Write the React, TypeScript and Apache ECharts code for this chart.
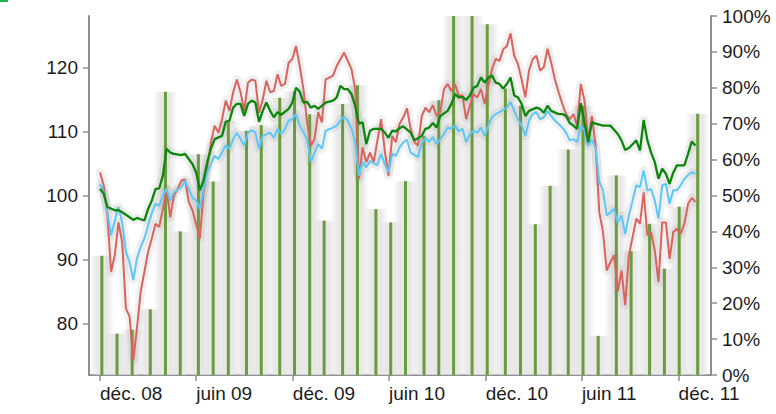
import React, { useEffect, useRef } from 'react';
import * as echarts from 'echarts';

// x positions are week indices counted from the first weekly observation (early Dec 2008)
const tickWeeks = [0, 26, 52.14, 78.14, 104.29, 130.29, 156.43];
const tickLabels = ['déc. 08', 'juin 09', 'déc. 09', 'juin 10', 'déc. 10', 'juin 11', 'déc. 11'];
const leftTicks = [80, 90, 100, 110, 120];

const redSeries: [number, number][] = [
  [0,103.6],[1,101.6],[2,96.9],[3,88.1],[4,90.7],[5,95.8],[6,92.7],[7,82.4],[8,81.1],[9,74.3],[10,79.3],[11,85],[13,91.2],[14,93.3],[15,95.6],[16,95.1],[17,97.9],[18,101],[19,96.6],[20,100],[21,101],[22,102.3],[23,102.5],[24,99],[25,97.7],[27,93.3],[28,100.5],[30,108.3],[31,110.9],[32,109.8],[33,111.9],[34,114.8],[35,113.2],[36,116.1],[37,118.1],[38,116.1],[39,113.2],[40,117.6],[41,118.1],[42,117.9],[43,112.9],[44,115],[45,117.9],[46,116.1],[47,116.3],[48,118.9],[49,117.1],[50,117.4],[51,120.7],[52,121.3],[53,123.3],[54,120.2],[55,116.6],[56,111.4],[57,107.8],[58,108.8],[59,113],[60,111.4],[61,118.1],[62,118.4],[63,118.7],[64,120.2],[66,122.3],[67,121],[68,119.7],[69,116.6],[70,102.6],[71,107.5],[72,105.2],[73,106.7],[74,105.2],[76,111.9],[77,107],[78,103.1],[79,109.3],[80,108.3],[81,111.2],[82,112.2],[83,113.6],[84,110.4],[85,108.3],[86,107.8],[87,112.4],[88,113.7],[89,113],[90,114.1],[91,112.4],[92,113],[93,116.6],[94,117.4],[95,116.3],[96,117.4],[97,115.6],[98,115.6],[99,111.9],[100,114],[101,115.8],[102,115.3],[103,116.6],[104,114.3],[105,117.1],[106,119.7],[107,121.3],[108,121],[109,122.8],[110,123.3],[111,125.3],[112,121.8],[113,120.5],[114,118.1],[115,115.3],[116,119.5],[117,121.3],[118,121.8],[119,119.5],[120,120],[121,122.9],[122,120.7],[123,118.1],[124,116.1],[125,114.3],[126,112.7],[127,111.9],[128,112.7],[129,110.9],[130,117.4],[131,114.8],[132,108.6],[133,112.4],[134,107.8],[135,97.4],[136,94.3],[137,88.3],[138,89.6],[139,90.7],[140,85],[141,88.3],[142,82.9],[143,90.7],[144,93.5],[145,96.4],[146,95.6],[147,100.5],[148,93.8],[149,94.3],[150,91.4],[151,86.5],[152,95.8],[153,95.8],[154,90.1],[155,94.3],[156,94.8],[157,94],[158,95.6],[159,98.7],[160,99.6],[161,99]
];

const blueSeries: [number, number][] = [
  [0,101.8],[1,100.5],[2,97.4],[3,93.8],[4,96.1],[5,98.2],[6,95.8],[7,91.2],[8,89.6],[9,86.8],[10,90.2],[11,92],[12,93.3],[13,95.3],[14,97.2],[15,98.7],[16,98.4],[17,100],[18,101],[19,99.2],[20,100.5],[22,101.3],[23,102.3],[24,101],[25,99.7],[26,99.2],[27,97.9],[28,101],[29,103.6],[30,104.9],[31,106.2],[32,105.7],[34,107.8],[35,107.3],[36,108.8],[37,109.8],[38,108.8],[39,107.8],[40,109.8],[41,110.2],[42,109.8],[43,107.3],[44,109.3],[46,109.8],[47,109],[48,110.4],[49,109.6],[50,110.4],[51,111.7],[52,111.9],[53,112.7],[54,110.9],[56,108.8],[57,105.2],[58,106.7],[59,108],[60,107.3],[61,110.1],[63,110.6],[64,110.9],[65,111.7],[66,112.3],[67,111.7],[68,110.4],[69,108.3],[70,103.1],[71,105.2],[72,104.4],[73,105.4],[75,104.7],[76,106.5],[77,104.9],[78,103.6],[79,106.5],[80,106.2],[81,107.5],[82,108.3],[83,108.7],[84,106.7],[86,106],[87,108.3],[88,108.9],[89,108.4],[90,109.1],[91,108],[93,109.6],[94,110.6],[95,110.4],[96,110.9],[97,110],[98,110.4],[99,108.3],[100,109.6],[101,110.1],[102,109.8],[103,110.6],[104,109.3],[105,110.9],[106,112.2],[107,112.7],[108,113],[110,113.7],[111,114.6],[112,113.2],[113,111.9],[114,110.9],[115,109.3],[116,111.7],[117,112.7],[118,113],[119,111.9],[120,112.2],[121,113.2],[122,112.4],[123,111.7],[125,110.6],[126,109.8],[127,108.6],[128,108.8],[129,108.3],[130,110.9],[131,110.1],[132,107.8],[133,108.8],[134,107.3],[135,102.1],[136,100.8],[137,96.9],[138,97.4],[139,97.9],[140,95.8],[141,96.9],[142,94],[143,96.9],[144,99.2],[145,101.6],[146,101.3],[147,103.9],[148,100.8],[149,101],[150,99.2],[151,96.4],[152,101.6],[153,101.8],[154,98.7],[155,100.8],[156,100.8],[157,101.6],[158,102.6],[159,103.2],[160,103.6],[161,103.4]
];

const greenSeries: [number, number][] = [
  [0,101],[1,100.3],[2,98.2],[4,97.7],[5,97.7],[6,97.4],[8,96.6],[9,96.2],[10,96.5],[11,96.3],[12,96.1],[13,97.9],[14,99.2],[15,101],[16,101.1],[17,103.1],[18,107.3],[19,106.7],[20,106.5],[22,106.3],[23,106.5],[24,105.7],[25,104.9],[26,103.6],[27,100.8],[28,102.3],[29,105.2],[30,107.3],[31,108.8],[33,109.3],[34,111.5],[35,111.7],[36,113.7],[37,114.3],[38,114.3],[39,112.4],[40,114.3],[41,114.8],[42,114.5],[43,111.5],[44,113.2],[45,114.5],[46,113.2],[47,112.2],[48,113],[49,112.6],[51,113.5],[52,114.5],[53,116.8],[54,116.2],[55,114.5],[56,114.6],[57,113.7],[58,114],[59,113.5],[60,114],[61,114.5],[63,114.8],[64,115.3],[65,117.1],[66,116.6],[67,116.6],[68,115.8],[69,114],[70,111.2],[71,111.4],[72,108],[73,110.1],[74,110.4],[76,110.4],[77,109.8],[78,109],[79,110.1],[80,110],[81,110.5],[82,110.8],[84,109.8],[85,108.6],[87,109.3],[88,110.4],[89,110.6],[90,111.3],[91,110.6],[92,112.4],[94,113.2],[95,114.3],[96,115.8],[97,115.3],[98,115.4],[99,114.9],[100,115.6],[101,116.8],[102,117.1],[103,118.4],[104,117.6],[105,118.4],[106,118.7],[107,117.6],[108,117.4],[109,116.7],[110,117.4],[111,118.4],[112,115.6],[113,115.3],[114,114.3],[115,112.4],[116,113.2],[118,113.7],[119,113.5],[120,112.9],[121,114],[122,113.2],[124,112.7],[125,112.7],[126,112.4],[127,111.3],[128,110.9],[129,110.4],[130,114.4],[131,111.4],[132,108.3],[133,111.4],[134,111.2],[136,110.9],[137,110.9],[138,110.9],[140,109.6],[141,108.6],[142,107.1],[143,107.4],[144,108],[145,108.6],[146,107],[147,111.8],[148,108.6],[149,106.7],[150,105.2],[151,102.6],[152,104.2],[153,103.4],[154,101.8],[155,103.6],[156,104.7],[158,104.7],[159,106.5],[160,108.4],[161,107.8]
];

// monthly bars (right axis, %)
const barWeeks = [0.5,4.6,8.7,13.6,17.7,21.7,26.6,30.6,34.7,39.6,43.6,48.6,52.6,56.7,60.6,65.6,69.6,74.6,78.6,82.6,87.6,91.6,95.6,100.6,104.7,109.6,113.7,117.7,121.7,126.6,130.6,134.7,139.6,143.6,148.6,152.6,156.6,161.6];
const barPct = [33.2,11.5,12.6,18.3,78.9,40,61.5,53.9,70.8,68,69.6,77.2,79,72.6,43,75.5,80.7,46.2,42.5,54,66.5,76.5,100,100,97.7,79.8,75,42,52.7,62.8,75,10.9,55.6,34.5,42.1,29.6,46.9,72.8];

const FONT = '"Liberation Sans", Arial, Helvetica, sans-serif';
const AXIS_COLOR = '#8f8f8f';
const TEXT_COLOR = '#1c1c1c';

export default function App() {
  const ref = useRef<HTMLDivElement>(null);

  useEffect(() => {
    if (!ref.current) return;
    const chart = echarts.init(ref.current, undefined, { renderer: 'svg' });
    const xMin = -2.975;
    const xMax = 165.2;
    const bars = barWeeks.map((w, i) => [w, barPct[i]]);
    const softGray = new echarts.graphic.LinearGradient(0, 0, 1, 0, [
      { offset: 0, color: 'rgba(226,226,226,0)' },
      { offset: 0.3, color: 'rgba(226,226,226,0.8)' },
      { offset: 0.7, color: 'rgba(226,226,226,0.8)' },
      { offset: 1, color: 'rgba(226,226,226,0)' },
    ]);
    const lineBase = {
      type: 'line',
      xAxisIndex: 0,
      yAxisIndex: 0,
      showSymbol: false,
      symbol: 'none',
      silent: true,
    };
    const halo = (data: [number, number][]) => ({
      ...lineBase,
      data,
      lineStyle: { color: 'rgba(0,0,0,0.055)', width: 9, cap: 'round', join: 'round' },
      z: 2,
    });
    chart.setOption({
      animation: false,
      grid: { left: 89, right: 65, top: 16, bottom: 39, containLabel: false },
      xAxis: [
        {
          type: 'value',
          min: xMin,
          max: xMax,
          axisLine: { show: true, onZero: false, lineStyle: { color: AXIS_COLOR, width: 2 } },
          axisTick: { show: true, length: 6, lineStyle: { color: AXIS_COLOR, width: 1.5 }, customValues: tickWeeks },
          axisLabel: {
            customValues: tickWeeks,
            align: 'left',
            margin: 9,
            color: TEXT_COLOR,
            fontFamily: FONT,
            fontSize: 19,
            formatter: (v: number) => {
              const i = tickWeeks.findIndex((t) => Math.abs(t - v) < 0.01);
              return i >= 0 ? tickLabels[i] : '';
            },
          },
          splitLine: { show: false },
        },
        {
          type: 'value',
          min: xMin,
          max: xMax,
          show: false,
        },
      ],
      yAxis: [
        {
          type: 'value',
          min: 72,
          max: 128,
          position: 'left',
          axisLine: { show: true, onZero: false, lineStyle: { color: AXIS_COLOR, width: 2 } },
          axisTick: { show: true, length: 6, lineStyle: { color: AXIS_COLOR, width: 1.5 }, customValues: leftTicks },
          axisLabel: {
            customValues: leftTicks,
            margin: 11,
            color: TEXT_COLOR,
            fontFamily: FONT,
            fontSize: 19,
          },
          splitLine: { show: false },
        },
        {
          type: 'value',
          min: 0,
          max: 100,
          interval: 10,
          position: 'right',
          axisLine: { show: true, onZero: false, lineStyle: { color: AXIS_COLOR, width: 2 } },
          axisTick: { show: true, length: 6, lineStyle: { color: AXIS_COLOR, width: 1.5 } },
          axisLabel: {
            margin: 11,
            color: TEXT_COLOR,
            fontFamily: FONT,
            fontSize: 19,
            formatter: '{value}%',
          },
          splitLine: { show: false },
        },
      ],
      graphic: [
        { type: 'rect', left: 0, top: 0, shape: { width: 8, height: 2 }, style: { fill: '#1db34a' } },
      ],
      series: [
        {
          type: 'bar',
          xAxisIndex: 1,
          yAxisIndex: 1,
          data: bars,
          barWidth: 24,
          itemStyle: { color: softGray },
          silent: true,
          z: 1,
        },
        {
          type: 'bar',
          xAxisIndex: 0,
          yAxisIndex: 1,
          data: bars,
          barWidth: 3,
          itemStyle: { color: '#6a9b3c' },
          z: 3,
        },
        halo(redSeries),
        halo(blueSeries),
        halo(greenSeries),
        {
          ...lineBase,
          data: redSeries,
          lineStyle: { color: '#d8645d', width: 2 },
          z: 4,
        },
        {
          ...lineBase,
          data: blueSeries,
          lineStyle: { color: '#5cc8f8', width: 2 },
          z: 5,
        },
        {
          ...lineBase,
          data: greenSeries,
          lineStyle: { color: '#0b870b', width: 2.3 },
          z: 6,
        },
      ],
    });
    return () => chart.dispose();
  }, []);

  return (
    <div
      ref={ref}
      style={{ position: 'absolute', left: 0, top: 0, width: 776, height: 414, background: '#fff' }}
    />
  );
}
